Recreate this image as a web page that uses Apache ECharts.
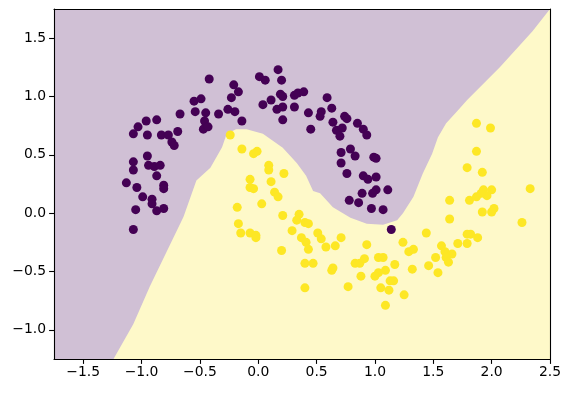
<!DOCTYPE html>
<html>
<head>
<meta charset="utf-8">
<script src="https://cdn.jsdelivr.net/npm/echarts@6/dist/echarts.min.js"></script>
<style>html,body{margin:0;padding:0;background:#fff}#c{width:570px;height:393px}</style>
</head>
<body>
<div id="c"></div>
<script>
// ---- data ----
const xTicks = [-1.5, -1.0, -0.5, 0.0, 0.5, 1.0, 1.5, 2.0, 2.5];
const yTicks = [-1.0, -0.5, 0.0, 0.5, 1.0, 1.5];
const xRange = [-1.75, 2.5];
const yRange = [-1.25, 1.75];

// class 0 (purple) points [x, y]
const class0 = [
[-1.07,-0.14],[-1.05,0.03],[-1.13,0.26],[-1.04,0.22],[-0.99,0.14],[-0.91,0.12],[-0.91,0.08],[-0.87,0.02],
[-0.81,0.04],[-0.81,0.24],[-0.81,0.21],[-0.87,0.32],[-0.94,0.41],[-0.89,0.40],[-0.84,0.41],[-1.07,0.44],
[-1.07,0.37],[-0.95,0.49],[-0.74,0.61],[-0.72,0.58],[-1.07,0.68],[-0.95,0.67],[-0.83,0.67],[-0.77,0.67],
[-0.69,0.70],[-1.03,0.74],[-0.96,0.79],[-0.87,0.80],[-0.67,0.85],[-0.55,0.96],[-0.49,0.98],[-0.54,0.87],
[-0.45,0.86],[-0.46,0.79],[-0.47,0.72],[-0.43,0.74],[-0.34,0.85],[-0.26,0.89],[-0.20,0.87],[-0.14,0.79],
[-0.42,1.15],[-0.21,1.10],[-0.17,1.04],[-0.23,0.99],[0.01,1.17],[0.06,1.14],[0.17,1.23],[0.20,1.14],
[0.19,1.02],[0.21,1.00],[0.31,1.01],[0.34,1.03],[0.39,1.04],[0.11,0.97],[0.04,0.93],[0.16,0.89],
[0.21,0.91],[0.31,0.91],[0.21,0.80],[0.59,0.99],[0.43,0.86],[0.54,0.87],[0.53,0.83],[0.63,0.90],
[0.74,0.83],[0.76,0.81],[0.64,0.78],[0.45,0.72],[0.67,0.71],[0.72,0.73],[0.70,0.66],[0.85,0.77],
[0.90,0.72],[0.93,0.67],[0.71,0.52],[0.79,0.55],[0.83,0.49],[0.71,0.43],[0.99,0.48],[1.01,0.47],
[0.76,0.34],[0.90,0.32],[0.94,0.29],[1.01,0.31],[1.11,0.20],[1.01,0.20],[0.98,0.17],[0.89,0.17],
[0.78,0.11],[0.86,0.09],[0.97,0.04],[1.07,0.03],[1.14,-0.14]
];

// class 1 (yellow) points [x, y]
const class1 = [
[-0.24,0.67],[-0.14,0.55],[-0.04,0.51],[-0.01,0.53],[0.09,0.41],[0.09,0.37],[0.22,0.34],[0.11,0.27],
[-0.07,0.29],[-0.07,0.22],[-0.04,0.21],[0.14,0.18],[0.17,0.14],[0.03,0.08],[-0.18,0.05],[-0.17,-0.09],
[-0.15,-0.17],[-0.07,-0.17],[-0.02,-0.19],[-0.02,-0.21],[0.21,-0.02],[0.35,-0.01],[0.33,-0.06],[0.40,-0.08],
[0.43,-0.09],[0.29,-0.15],[0.37,-0.21],[0.41,-0.25],[0.43,-0.31],[0.51,-0.17],[0.54,-0.22],[0.58,-0.29],
[0.66,-0.28],[0.71,-0.21],[0.20,-0.32],[0.40,-0.43],[0.47,-0.43],[0.63,-0.49],[0.64,-0.47],[0.40,-0.64],
[0.77,-0.63],[0.93,-0.27],[0.83,-0.43],[0.87,-0.43],[0.91,-0.39],[1.03,-0.38],[1.07,-0.38],[1.17,-0.44],
[1.09,-0.49],[1.03,-0.51],[1.00,-0.54],[0.88,-0.54],[1.13,-0.58],[1.16,-0.58],[1.05,-0.64],[1.12,-0.66],
[1.25,-0.70],[1.09,-0.79],[1.44,-0.17],[1.24,-0.25],[1.29,-0.33],[1.33,-0.31],[1.32,-0.48],[1.46,-0.45],
[1.52,-0.38],[1.54,-0.51],[1.57,-0.28],[1.60,-0.33],[1.66,-0.35],[1.61,-0.38],[1.63,-0.42],[1.71,-0.26],
[1.79,-0.18],[1.82,-0.18],[1.79,-0.26],[1.88,-0.21],[1.64,-0.05],[1.64,0.11],[1.81,0.11],[1.87,0.14],
[1.93,0.20],[2.00,0.20],[1.96,0.15],[1.92,0.01],[2.00,0.01],[2.02,0.04],[2.26,-0.08],[2.33,0.21],
[1.87,0.77],[1.99,0.73],[1.87,0.53],[1.79,0.39],[1.92,0.35],[1.91,0.17]
];

// decision region of class 1 (outline of the yellow area) [x, y]
const class1Region = [
[-1.24,-1.25],[-1.07,-0.95],[-0.93,-0.63],[-0.64,-0.03],[-0.53,0.28],[-0.41,0.39],[-0.31,0.565],
[-0.27,0.68],[-0.19,0.72],[-0.10,0.72],[0.04,0.68],[0.21,0.56],[0.33,0.43],[0.41,0.32],[0.47,0.19],
[0.53,0.17],[0.64,0.05],[0.79,-0.04],[0.93,-0.09],[1.07,-0.10],[1.19,-0.06],[1.24,0.0],[1.33,0.14],
[1.41,0.34],[1.49,0.51],[1.54,0.65],[1.61,0.77],[1.71,0.88],[1.79,0.97],[2.07,1.25],[2.35,1.56],
[2.5,1.75],[2.5,-1.25]
];

// ---- styles ----
const purpleDot = '#440154';
const yellowDot = '#fde725';
const purpleBg = 'rgb(208,192,213)';
const yellowBg = 'rgb(254,249,201)';
const font = 'DejaVu Sans';
const fmt = v => (v < 0 ? '\u2212' : '') + Math.abs(v).toFixed(1);

const chart = echarts.init(document.getElementById('c'), null, {renderer: 'canvas'});
const axisCommon = {
  type: 'value', z: 10,
  splitLine: {show: false},
  axisLine: {show: true, onZero: false, lineStyle: {color: '#000', width: 1.1}},
};
chart.setOption({
  animation: false,
  backgroundColor: '#fff',
  grid: {left: 54, right: 20, top: 9, bottom: 34, show: true, backgroundColor: purpleBg, borderWidth: 0},
  xAxis: [
    Object.assign({}, axisCommon, {
      min: xRange[0], max: xRange[1], position: 'bottom',
      axisTick: {show: true, inside: false, length: 4.9, customValues: xTicks, lineStyle: {color: '#000', width: 1.1}},
      axisLabel: {show: true, customValues: xTicks, formatter: fmt, margin: 6, color: '#000', fontFamily: font, fontSize: 13.9}
    }),
    Object.assign({}, axisCommon, {
      min: xRange[0], max: xRange[1], position: 'top',
      axisTick: {show: false}, axisLabel: {show: false}
    })
  ],
  yAxis: [
    Object.assign({}, axisCommon, {
      min: yRange[0], max: yRange[1], position: 'left',
      axisTick: {show: true, inside: false, length: 4.9, customValues: yTicks, lineStyle: {color: '#000', width: 1.1}},
      axisLabel: {show: true, customValues: yTicks, formatter: fmt, margin: 8, color: '#000', fontFamily: font, fontSize: 13.9}
    }),
    Object.assign({}, axisCommon, {
      min: yRange[0], max: yRange[1], position: 'right',
      axisTick: {show: false}, axisLabel: {show: false}
    })
  ],
  series: [
    {
      type: 'custom', silent: true, clip: true,
      data: [[0, 0]],
      renderItem: (params, api) => ({
        type: 'polygon',
        shape: {points: class1Region.map(p => api.coord(p))},
        style: {fill: yellowBg, stroke: null}
      })
    },
    {type: 'scatter', data: class0, symbolSize: 9, itemStyle: {color: purpleDot, opacity: 1}, silent: true},
    {type: 'scatter', data: class1, symbolSize: 9, itemStyle: {color: yellowDot, opacity: 1}, silent: true}
  ]
});
</script>
</body>
</html>
